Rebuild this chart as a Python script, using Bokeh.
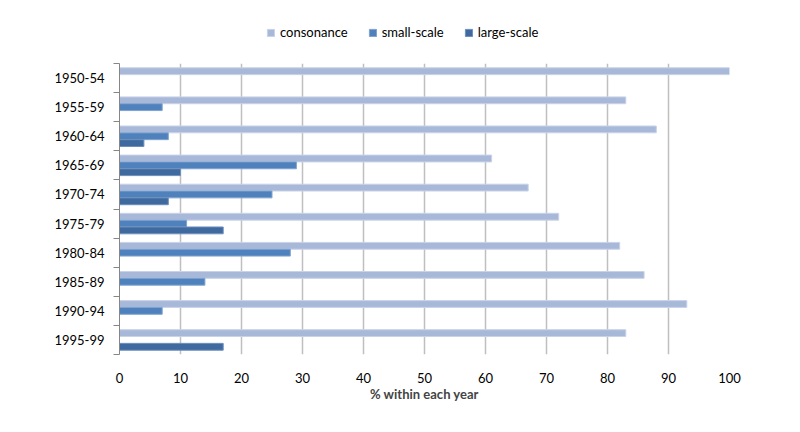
from bokeh.plotting import figure
from bokeh.layouts import column
from bokeh.models import ColumnDataSource, Range1d, FixedTicker, Legend, LegendItem
from bokeh.embed import file_html
from bokeh.resources import INLINE

categories = ["1950-54", "1955-59", "1960-64", "1965-69", "1970-74",
              "1975-79", "1980-84", "1985-89", "1990-94", "1995-99"]
consonance = [100, 83, 88, 61, 67, 72, 82, 86, 93, 83]
small_scale = [0, 7, 8, 29, 25, 11, 28, 14, 7, 0]
large_scale = [0, 0, 4, 10, 8, 17, 0, 0, 0, 17]
series_names = ["consonance", "small-scale", "large-scale"]
x_ticks = [0, 10, 20, 30, 40, 50, 60, 70, 80, 90, 100]

colors = ["#A8B8D9", "#4F81BD", "#3F6A9F"]
edges = ["#C9D3E8", "#7FA3CF", "#6E8FBA"]
offsets = [0.235, 0.0, -0.235]
bar_h = 0.235
font = "Lato"

n = len(categories)
ypos = [n - 1 - i for i in range(n)]

p = figure(width=784, height=361, output_backend="svg", toolbar_location=None,
           x_range=Range1d(0, 100), y_range=Range1d(-0.5, n - 0.5),
           min_border_left=119, min_border_right=55, min_border_top=8,
           min_border_bottom=62)
p.outline_line_color = None
p.background_fill_color = "white"

for name, vals, c, e, off in zip(series_names, [consonance, small_scale, large_scale],
                                  colors, edges, offsets):
    src = ColumnDataSource(dict(y=[v + off for v in ypos], right=vals))
    p.hbar(y="y", right="right", left=0, height=bar_h, source=src,
           fill_color=c, line_color=e, line_width=1)

# x axis
p.xaxis.ticker = FixedTicker(ticks=x_ticks)
p.xaxis.axis_line_color = None
p.xaxis.major_tick_line_color = None
p.xaxis.minor_tick_line_color = None
p.xaxis.major_label_text_font = font
p.xaxis.major_label_text_font_size = "13px"
p.xaxis.major_label_text_color = "#000000"
p.xaxis.major_label_standoff = 12
p.xaxis.axis_label = "% within each year"
p.xaxis.axis_label_text_font = font
p.xaxis.axis_label_text_font_size = "13px"
p.xaxis.axis_label_text_font_style = "bold"
p.xaxis.axis_label_standoff = 0

# y axis
p.yaxis.ticker = FixedTicker(ticks=ypos, minor_ticks=[v + 0.5 for v in range(-1, n)])
p.yaxis.major_label_overrides = {y: c for y, c in zip(ypos, categories)}
p.yaxis.axis_line_color = "#868686"
p.yaxis.major_tick_line_color = None
p.yaxis.minor_tick_line_color = "#868686"
p.yaxis.minor_tick_out = 6
p.yaxis.minor_tick_in = 0
p.yaxis.major_label_text_font = font
p.yaxis.major_label_text_font_size = "13px"
p.yaxis.major_label_text_color = "#000000"
p.yaxis.major_label_standoff = 9

p.xgrid.grid_line_color = "#BFBFBF"
p.xgrid.grid_line_width = 1.5
p.ygrid.grid_line_color = None

# legend strip above the chart (swatch renderers sit outside its visible range)
lf = figure(width=784, height=55, output_backend="svg", toolbar_location=None,
            x_range=Range1d(0, 1), y_range=Range1d(0, 1), min_border=0)
lf.axis.visible = False
lf.grid.grid_line_color = None
lf.outline_line_color = None
items = []
for name, c, e in zip(series_names, colors, edges):
    r = lf.hbar(y=[-5], right=[1], left=0, height=0.1, fill_color=c, line_color=e)
    items.append(LegendItem(label=name, renderers=[r]))
legend = Legend(items=items, orientation="horizontal", location=(147, 15),
                label_text_font=font, label_text_font_size="13px",
                label_text_color="#000000",
                glyph_width=9, glyph_height=9, label_standoff=5, spacing=20,
                border_line_color=None, background_fill_alpha=0,
                padding=2, margin=0)
lf.add_layout(legend, "center")

layout = column(lf, p, spacing=0)
open("out.html", "w").write(file_html(layout, INLINE))
